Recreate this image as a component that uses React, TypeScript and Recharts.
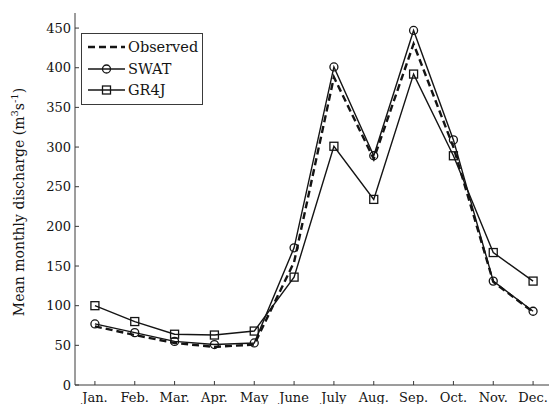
import { LineChart, Line, XAxis, YAxis, Legend } from 'recharts';

const months = ['Jan.', 'Feb.', 'Mar.', 'Apr.', 'May', 'June', 'July', 'Aug.', 'Sep.', 'Oct.', 'Nov.', 'Dec.'];
const observed = [74, 63, 53, 48, 51, 155, 388, 285, 430, 300, 130, 92];
const swat = [77, 66, 55, 51, 53, 173, 401, 289, 447, 309, 131, 93];
const gr4j = [100, 80, 64, 63, 68, 136, 301, 234, 392, 289, 167, 131];
const monthTicks = months.map((_, i) => i + 1);
const yTicks = [0, 50, 100, 150, 200, 250, 300, 350, 400, 450];

const rows = months.map((m, i) => ({ x: i + 1, month: m, observed: observed[i], swat: swat[i], gr4j: gr4j[i] }));

const INK = '#141414';
const AXIS = '#3a3a3a';
const FONT = '"DejaVu Serif", serif';

function SquareDot(props: any) {
  const { cx, cy } = props;
  if (cx == null || cy == null) return null;
  return <rect x={cx - 4} y={cy - 4} width={8} height={8} fill="none" stroke={INK} strokeWidth={1.3} />;
}

function legendSample(kind: string) {
  if (kind === 'observed') return <line x1={0} y1={6} x2={37} y2={6} stroke={INK} strokeWidth={2.4} strokeDasharray="7 4" />;
  return (
    <g>
      <line x1={0} y1={6} x2={37} y2={6} stroke={INK} strokeWidth={1.4} />
      {kind === 'swat'
        ? <circle cx={18.5} cy={6} r={4} fill="none" stroke={INK} strokeWidth={1.3} />
        : <rect x={14.5} y={2} width={8} height={8} fill="none" stroke={INK} strokeWidth={1.3} />}
    </g>
  );
}

const legendItems = [
  { key: 'observed', label: 'Observed' },
  { key: 'swat', label: 'SWAT' },
  { key: 'gr4j', label: 'GR4J' },
];

function LegendBox() {
  return (
    <div style={{ position: 'relative', width: 120, height: 70, border: `1px solid ${AXIS}`, background: '#fff', fontFamily: FONT, fontSize: 14.5, color: INK }}>
      {legendItems.map((it, i) => (
        <div key={it.key} style={{ position: 'absolute', left: 6, top: 6 + i * 21.5, height: 14, display: 'flex', alignItems: 'center' }}>
          <svg width={37} height={12} style={{ overflow: 'visible' }}>{legendSample(it.key)}</svg>
          <span style={{ marginLeft: 3, lineHeight: '14px' }}>{it.label}</span>
        </div>
      ))}
    </div>
  );
}

function YLabel({ viewBox }: any) {
  const cx = viewBox.x + 19;
  const cy = viewBox.y + viewBox.height / 2 + 3;
  return (
    <text x={cx} y={cy} transform={`rotate(-90 ${cx} ${cy})`} textAnchor="middle" dominantBaseline="central"
      fontFamily={FONT} fontSize={14} fill={INK}>
      Mean monthly discharge (m<tspan dy={-5} fontSize={10}>3</tspan><tspan dy={5}>s</tspan>
      <tspan dy={-5} fontSize={10}>-1</tspan><tspan dy={5}>)</tspan>
    </text>
  );
}

export default function App() {
  const tick = { fill: INK, fontSize: 13, fontFamily: FONT };
  return (
    <div style={{ position: 'absolute', left: 0, top: 0, width: 549, height: 404, overflow: 'hidden', background: '#fff' }}>
      <LineChart width={560} height={404} data={rows} margin={{ top: 13, right: 7, bottom: 0, left: 0 }}>
        <XAxis dataKey="x" type="number" domain={[0.5, 12.5]} ticks={monthTicks} interval={0}
          tickFormatter={v => months[v - 1]} stroke={AXIS} tickSize={-4} tickMargin={12} height={19} tick={tick} />
        <XAxis xAxisId="top" orientation="top" dataKey="x" type="number" domain={[0.5, 12.5]} ticks={monthTicks}
          interval={0} stroke={AXIS} tickSize={-4} tick={false} height={0} />
        <YAxis type="number" domain={[0, 469]} ticks={yTicks} interval={0} stroke={AXIS} tickSize={-4} tickMargin={8}
          width={75} tick={tick} label={<YLabel />} />
        <YAxis yAxisId="right" orientation="right" type="number" domain={[0, 469]} ticks={yTicks} interval={0}
          stroke={AXIS} tickSize={-4} tick={false} width={0} />
        <Legend layout="vertical" align="center" verticalAlign="middle" content={() => <LegendBox />}
          wrapperStyle={{ left: 81, top: 33, width: 'auto', height: 'auto' }} />
        <Line dataKey="observed" name="Observed" stroke={INK} strokeWidth={2.4} strokeDasharray="7 4" dot={false}
          isAnimationActive={false} />
        <Line dataKey="swat" name="SWAT" stroke={INK} strokeWidth={1.4}
          dot={{ r: 4, fill: 'none', stroke: INK, strokeWidth: 1.3 }} isAnimationActive={false} />
        <Line dataKey="gr4j" name="GR4J" stroke={INK} strokeWidth={1.4} dot={<SquareDot />} isAnimationActive={false} />
      </LineChart>
    </div>
  );
}
